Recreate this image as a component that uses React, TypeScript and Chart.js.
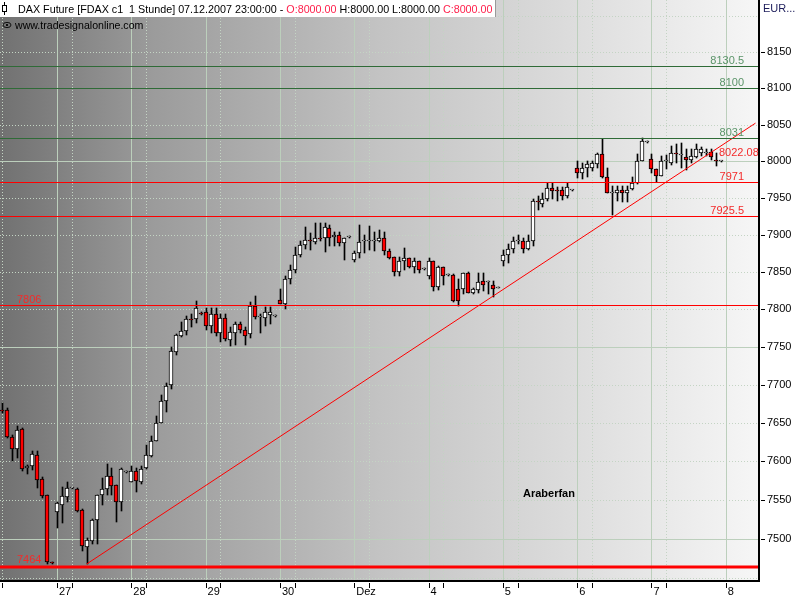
import React, { useEffect, useRef } from "react";
import { Chart, registerables } from "chart.js";

Chart.register(...registerables);

// ---- DATA (hourly candles, 26 Nov – 7 Dec 2007, FDAX) ----
const opens = [
  7667, 7667, 7632, 7616, 7642, 7591, 7594, 7608, 7577, 7556, 7470,
  7534, 7544, 7554, 7565, 7564, 7537, 7490, 7498, 7524, 7556, 7564, 7581, 7569, 7548, 7586,
  7573, 7588, 7573, 7591, 7607, 7627, 7650, 7679, 7700, 7743, 7765, 7771, 7787, 7787, 7795,
  7797, 7778, 7794, 7768, 7788, 7759, 7768, 7780, 7772, 7767, 7804, 7790, 7789, 7793, 7791,
  7813, 7807, 7840, 7852, 7873, 7886, 7893, 7890, 7895, 7896, 7909, 7897, 7900, 7889, 7897,
  7866, 7876, 7891, 7891, 7892, 7891, 7896, 7878, 7870, 7850, 7864, 7868, 7856, 7864, 7854,
  7844, 7864, 7830, 7857, 7846, 7846, 7827, 7827, 7848, 7822, 7826, 7838, 7837, 7833, 7829,
  7864, 7873, 7881, 7891, 7891, 7881, 7891, 7945, 7942, 7948, 7963, 7960, 7960, 7952, 7960,
  7990, 7984, 7990, 7990, 7996, 8009, 7978, 7956, 7956, 7960, 7956, 7962, 7970, 8000, 8026,
  8003, 7989, 7980, 8000, 7998, 8011, 8008, 8005, 8001, 8006, 8011, 8011, 8012, 8002, 8000,
];
const highs = [
  7676, 7669, 7634, 7646, 7644, 7595, 7614, 7614, 7580, 7557, 7471,
  7548, 7567, 7573, 7566, 7565, 7538, 7501, 7525, 7557, 7578, 7597, 7592, 7570, 7591, 7587,
  7594, 7591, 7594, 7621, 7633, 7659, 7687, 7703, 7750, 7767, 7783, 7791, 7794, 7811, 7796,
  7802, 7802, 7802, 7794, 7794, 7777, 7783, 7783, 7777, 7810, 7818, 7794, 7803, 7803, 7792,
  7827, 7844, 7859, 7883, 7891, 7911, 7902, 7916, 7916, 7916, 7913, 7903, 7904, 7896, 7898,
  7878, 7913, 7900, 7912, 7903, 7907, 7903, 7881, 7870, 7870, 7882, 7869, 7869, 7864, 7855,
  7869, 7864, 7858, 7857, 7847, 7847, 7840, 7848, 7850, 7828, 7849, 7849, 7838, 7838, 7830,
  7880, 7887, 7897, 7900, 7896, 7900, 7948, 7953, 7957, 7970, 7970, 7964, 7964, 7970, 7961,
  8000, 7997, 8000, 8000, 8011, 8030, 7990, 7966, 7966, 7966, 7966, 7978, 8009, 8031, 8027,
  8009, 7989, 8007, 8008, 8020, 8024, 8025, 8016, 8017, 8023, 8019, 8017, 8016, 8011, 8000,
];
const lows = [
  7663, 7630, 7601, 7604, 7588, 7584, 7589, 7565, 7553, 7468, 7468,
  7514, 7521, 7547, 7564, 7535, 7484, 7468, 7494, 7494, 7544, 7556, 7556, 7522, 7536, 7585,
  7573, 7560, 7571, 7590, 7606, 7626, 7650, 7664, 7694, 7740, 7763, 7766, 7776, 7782, 7793,
  7773, 7768, 7764, 7757, 7758, 7751, 7752, 7768, 7752, 7762, 7787, 7769, 7778, 7781, 7790,
  7807, 7800, 7834, 7849, 7870, 7881, 7880, 7887, 7892, 7877, 7885, 7885, 7885, 7866, 7896,
  7863, 7869, 7875, 7880, 7878, 7890, 7872, 7867, 7845, 7844, 7853, 7855, 7849, 7849, 7853,
  7840, 7824, 7826, 7833, 7845, 7810, 7805, 7820, 7822, 7821, 7822, 7825, 7821, 7816, 7828,
  7858, 7862, 7876, 7888, 7876, 7880, 7885, 7933, 7937, 7945, 7948, 7946, 7947, 7950, 7959,
  7977, 7975, 7978, 7987, 7990, 7977, 7957, 7926, 7946, 7944, 7944, 7961, 7969, 8000, 8025,
  7984, 7972, 7979, 7989, 7995, 7998, 7991, 7988, 7998, 8004, 8007, 8007, 8001, 7993, 8000,
];
const closes = [
  7666, 7632, 7616, 7641, 7590, 7594, 7610, 7576, 7555, 7470, 7469,
  7546, 7555, 7565, 7565, 7536, 7491, 7499, 7524, 7556, 7564, 7581, 7568, 7548, 7590, 7586,
  7588, 7574, 7590, 7608, 7627, 7650, 7679, 7698, 7745, 7766, 7771, 7787, 7786, 7802, 7794,
  7778, 7794, 7768, 7788, 7760, 7770, 7780, 7772, 7765, 7804, 7790, 7790, 7796, 7796, 7791,
  7807, 7840, 7852, 7873, 7886, 7893, 7892, 7896, 7894, 7910, 7896, 7900, 7889, 7896, 7897,
  7875, 7890, 7891, 7892, 7893, 7896, 7878, 7869, 7850, 7864, 7868, 7856, 7864, 7853, 7854,
  7864, 7830, 7857, 7845, 7846, 7811, 7811, 7848, 7822, 7827, 7837, 7832, 7837, 7827, 7829,
  7873, 7881, 7891, 7892, 7881, 7891, 7946, 7944, 7948, 7963, 7959, 7959, 7952, 7964, 7960,
  7984, 7990, 7996, 7997, 8009, 7978, 7957, 7958, 7960, 7956, 7960, 7970, 8000, 8027, 8026,
  7989, 7980, 8000, 8001, 8011, 8009, 8008, 8001, 8007, 8017, 8017, 8012, 8005, 8000, 8000,
];

const slotCount = 153; // candle slots shown on the time axis (incl. empty ones on the right)
const dayStarts = [11, 26, 41, 56, 71, 86, 101, 116, 131, 146];
const dayLabels = ["27", "28", "29", "30", "Dez", "4", "5", "6", "7", "8"];
const priceTicks = [7500, 7550, 7600, 7650, 7700, 7750, 7800, 7850, 7900, 7950, 8000, 8050, 8100, 8150];
const majorGridPrices = [7500, 7750, 8000];
const minorGridPrices = [7450, 7550, 7600, 7650, 7700, 7800, 7850, 7900, 7950, 8050, 8100, 8150, 8200];
const priceMin = 7447.6;
const priceMax = 8221.7;

const greenLevels = [8130.5, 8100, 8031];
const redLevels = [7971, 7925.5];
const leftRedLevels = [7806];
const supportLevel = 7464;
const trendIndex = [17, 152];
const trendPrice = [7468, 8052];
const trendValueLabel = 8022.08;

const headerSegments = [
  { text: "DAX Future [FDAX c1  1 Stunde] 07.12.2007 23:00:00 - ", red: false },
  { text: "O:8000.00", red: true },
  { text: " H:8000.00 L:8000.00 ", red: false },
  { text: "C:8000.00", red: true },
];
const watermark = "www.tradesignalonline.com";
const currencyLabel = "EUR...";
const authorLabel = "Araberfan";

const FONT = '"Liberation Sans", Arial, sans-serif';

// snap candle elements to whole pixels so bodies and wicks stay crisp
const snapPlugin = {
  id: "snap",
  beforeDatasetsDraw(chart: any) {
    chart.data.datasets.forEach((ds: any, di: number) => {
      const meta = chart.getDatasetMeta(di);
      if (meta.type !== "bar") return;
      const isWick = ds.barThickness === 1;
      meta.data.forEach((el: any) => {
        if (!isFinite(el.x) || !isFinite(el.y) || !isFinite(el.base)) return;
        el.x = isWick ? Math.round(el.x) + 0.5 : Math.round(el.x);
        const t = Math.round(Math.min(el.y, el.base));
        let b = Math.round(Math.max(el.y, el.base));
        if (b - t < 1) b = t + 1;
        el.y = t;
        el.base = b;
      });
    });
  },
};

const decorPlugin = {
  id: "decor",
  beforeDraw(chart: any) {
    const { ctx, chartArea: a, scales } = chart;
    const xs = scales.x;
    const ys = scales.y;
    ctx.save();
    ctx.fillStyle = "#ffffff";
    ctx.fillRect(0, 0, chart.width, chart.height);
    const g = ctx.createLinearGradient(a.left, 0, a.right, 0);
    g.addColorStop(0, "#717171");
    g.addColorStop(0.2, "#9b9b9b");
    g.addColorStop(0.5, "#c3c3c3");
    g.addColorStop(0.74, "#dbdbdb");
    g.addColorStop(1, "#f6f6f6");
    ctx.fillStyle = g;
    ctx.fillRect(a.left, 0, a.right - a.left, a.bottom);

    // horizontal grid
    ctx.lineWidth = 1;
    ctx.strokeStyle = "#c4d4c4";
    ctx.setLineDash([1, 2]);
    for (const p of minorGridPrices) {
      const y = Math.round(ys.getPixelForValue(p)) + 0.5;
      ctx.beginPath();
      ctx.moveTo(a.left, y);
      ctx.lineTo(a.right, y);
      ctx.stroke();
    }
    // vertical dotted
    const dotted = [0, ...dayStarts.slice(0, -1).map((d) => d + 3)];
    for (const i of dotted) {
      const x = Math.round(xs.getPixelForValue(i)) + 0.5;
      ctx.beginPath();
      ctx.moveTo(x, 0);
      ctx.lineTo(x, a.bottom);
      ctx.stroke();
    }
    ctx.setLineDash([]);
    ctx.strokeStyle = "#bccfbc";
    for (const p of majorGridPrices) {
      const y = Math.round(ys.getPixelForValue(p)) + 0.5;
      ctx.beginPath();
      ctx.moveTo(a.left, y);
      ctx.lineTo(a.right, y);
      ctx.stroke();
    }
    for (const i of dayStarts) {
      const x = Math.round(xs.getPixelForValue(i)) + 0.5;
      ctx.beginPath();
      ctx.moveTo(x, 0);
      ctx.lineTo(x, a.bottom);
      ctx.stroke();
    }
    ctx.restore();
  },
  afterDatasetsDraw(chart: any) {
    const { ctx, chartArea: a, scales } = chart;
    const xs = scales.x;
    const ys = scales.y;
    ctx.save();
    // level lines
    const hline = (v: number, color: string) => {
      const y = Math.round(ys.getPixelForValue(v)) + 0.5;
      ctx.strokeStyle = color;
      ctx.lineWidth = 1;
      ctx.beginPath();
      ctx.moveTo(a.left, y);
      ctx.lineTo(a.right, y);
      ctx.stroke();
      return y;
    };
    ctx.font = "11px " + FONT;
    ctx.textBaseline = "middle";
    for (const v of greenLevels) {
      const y = hline(v, "#2f6b37");
      ctx.fillStyle = "#5a9468";
      ctx.textAlign = "right";
      ctx.fillText(String(v), 744, y - 6);
    }
    for (const v of redLevels) {
      const y = hline(v, "#ff0000");
      ctx.fillStyle = "#f42a2a";
      ctx.textAlign = "right";
      ctx.fillText(String(v), 744, y - 6);
    }
    for (const v of leftRedLevels) {
      const y = hline(v, "#ff0000");
      ctx.fillStyle = "#f42a2a";
      ctx.textAlign = "left";
      ctx.fillText(String(v), 17, y - 6);
    }
    {
      const y = ys.getPixelForValue(supportLevel);
      ctx.fillStyle = "#ff0000";
      ctx.fillRect(a.left, Math.round(y) - 1.5, a.right - a.left, 3);
      ctx.fillStyle = "#f42a2a";
      ctx.textAlign = "left";
      ctx.fillText(String(supportLevel), 17, y - 7.5);
    }
    {
      const y = ys.getPixelForValue(trendValueLabel);
      ctx.fillStyle = "#f42a2a";
      ctx.textAlign = "left";
      ctx.fillText(trendValueLabel.toFixed(2), 719, y + 8);
    }
    // author label
    ctx.fillStyle = "#000";
    ctx.font = "bold 11px " + FONT;
    ctx.textAlign = "left";
    ctx.fillText(authorLabel, 523, 494);

    // frame
    ctx.fillStyle = "#000";
    ctx.fillRect(Math.round(a.right), 0, 2, Math.round(a.bottom) + 2);
    ctx.fillRect(0, Math.round(a.bottom), Math.round(a.right) + 2, 2);

    // price axis
    ctx.font = "11px " + FONT;
    ctx.textAlign = "left";
    ctx.textBaseline = "middle";
    ctx.strokeStyle = "#000";
    ctx.lineWidth = 1;
    for (const p of priceTicks) {
      const y = ys.getPixelForValue(p);
      const yr = Math.round(y) + 0.5;
      ctx.beginPath();
      ctx.moveTo(761, yr);
      ctx.lineTo(765, yr);
      ctx.stroke();
      ctx.fillStyle = "#000";
      ctx.fillText(String(p), 767, y);
    }
    ctx.fillStyle = "#1c1c5a";
    ctx.fillText(currencyLabel, 763, 9);

    // time axis
    const tickIdx = [0, ...dayStarts, ...dayStarts.slice(0, -1).map((d) => d + 3)];
    for (const i of tickIdx) {
      const x = Math.round(xs.getPixelForValue(i)) + 0.5;
      ctx.beginPath();
      ctx.moveTo(x, a.bottom + 3);
      ctx.lineTo(x, a.bottom + 8);
      ctx.stroke();
    }
    ctx.fillStyle = "#000";
    dayStarts.forEach((d, k) => {
      const x = xs.getPixelForValue(d);
      ctx.fillText(dayLabels[k], x + 2, a.bottom + 12);
    });

    // header box
    ctx.fillStyle = "#ffffff";
    ctx.fillRect(0, 0, 496, 17);
    ctx.fillStyle = "#9a9a9a";
    ctx.fillRect(495, 0, 1, 17);
    // candle icon
    ctx.fillStyle = "#000";
    ctx.fillRect(4, 2, 1, 13);
    ctx.fillRect(2, 5, 5, 7);
    ctx.fillStyle = "#fff";
    ctx.fillRect(3, 6, 3, 5);
    ctx.font = "10.75px " + FONT;
    let hx = 18;
    for (const s of headerSegments) {
      ctx.fillStyle = s.red ? "#ff1f4b" : "#000";
      ctx.fillText(s.text, hx, 10);
      hx += ctx.measureText(s.text).width;
    }
    // watermark
    ctx.strokeStyle = "#111";
    ctx.beginPath();
    ctx.ellipse(7, 25, 4, 2.6, 0, 0, Math.PI * 2);
    ctx.stroke();
    ctx.fillStyle = "#111";
    ctx.fillRect(6, 24, 2, 2);
    ctx.fillStyle = "#000";
    ctx.font = "10.6px " + FONT;
    ctx.fillText(watermark, 15, 26);
    ctx.restore();
  },
};

export default function App() {
  const ref = useRef<HTMLCanvasElement | null>(null);
  useEffect(() => {
    if (!ref.current) return;
    const labels = Array.from({ length: slotCount }, (_, i) => String(i));
    const bodies = labels.map((_, i) => (i < opens.length ? [opens[i], closes[i]] : null));
    const wicks = labels.map((_, i) => (i < opens.length ? [lows[i], highs[i]] : null));
    const bodyColors = labels.map((_, i) =>
      i < opens.length && closes[i] < opens[i] ? "#ff0000" : "#ffffff"
    );
    const trend = labels.map((_, i) => {
      const k = trendIndex.indexOf(i);
      return k >= 0 ? trendPrice[k] : null;
    });
    const chart = new Chart(ref.current, {
      type: "bar",
      data: {
        labels,
        datasets: [
          {
            type: "line",
            data: trend as any,
            borderColor: "#ff0000",
            borderWidth: 1,
            pointRadius: 0,
            spanGaps: true,
            order: 0,
          } as any,
          {
            data: bodies as any,
            backgroundColor: bodyColors,
            borderColor: "#000000",
            borderWidth: 1,
            borderSkipped: false,
            barThickness: 4,
            minBarLength: 1,
            grouped: false,
            order: 1,
          } as any,
          {
            data: wicks as any,
            backgroundColor: "#000000",
            borderWidth: 0,
            barThickness: 1,
            grouped: false,
            order: 2,
          } as any,
        ],
      },
      options: {
        responsive: false,
        animation: false,
        events: [],
        layout: { padding: { left: 0, right: 42, top: 1, bottom: 20 } },
        plugins: { legend: { display: false }, tooltip: { enabled: false } },
        scales: {
          x: { type: "category", display: false, offset: true, grid: { display: false } },
          y: {
            type: "logarithmic",
            display: false,
            bounds: "data",
            min: priceMin,
            max: priceMax,
          },
        },
      } as any,
      plugins: [snapPlugin, decorPlugin],
    });
    return () => chart.destroy();
  }, []);
  return (
    <div style={{ position: "fixed", left: 0, top: 0, width: 800, height: 600, background: "#fff" }}>
      <canvas ref={ref} width={800} height={600} style={{ display: "block", width: 800, height: 600 }} />
    </div>
  );
}
